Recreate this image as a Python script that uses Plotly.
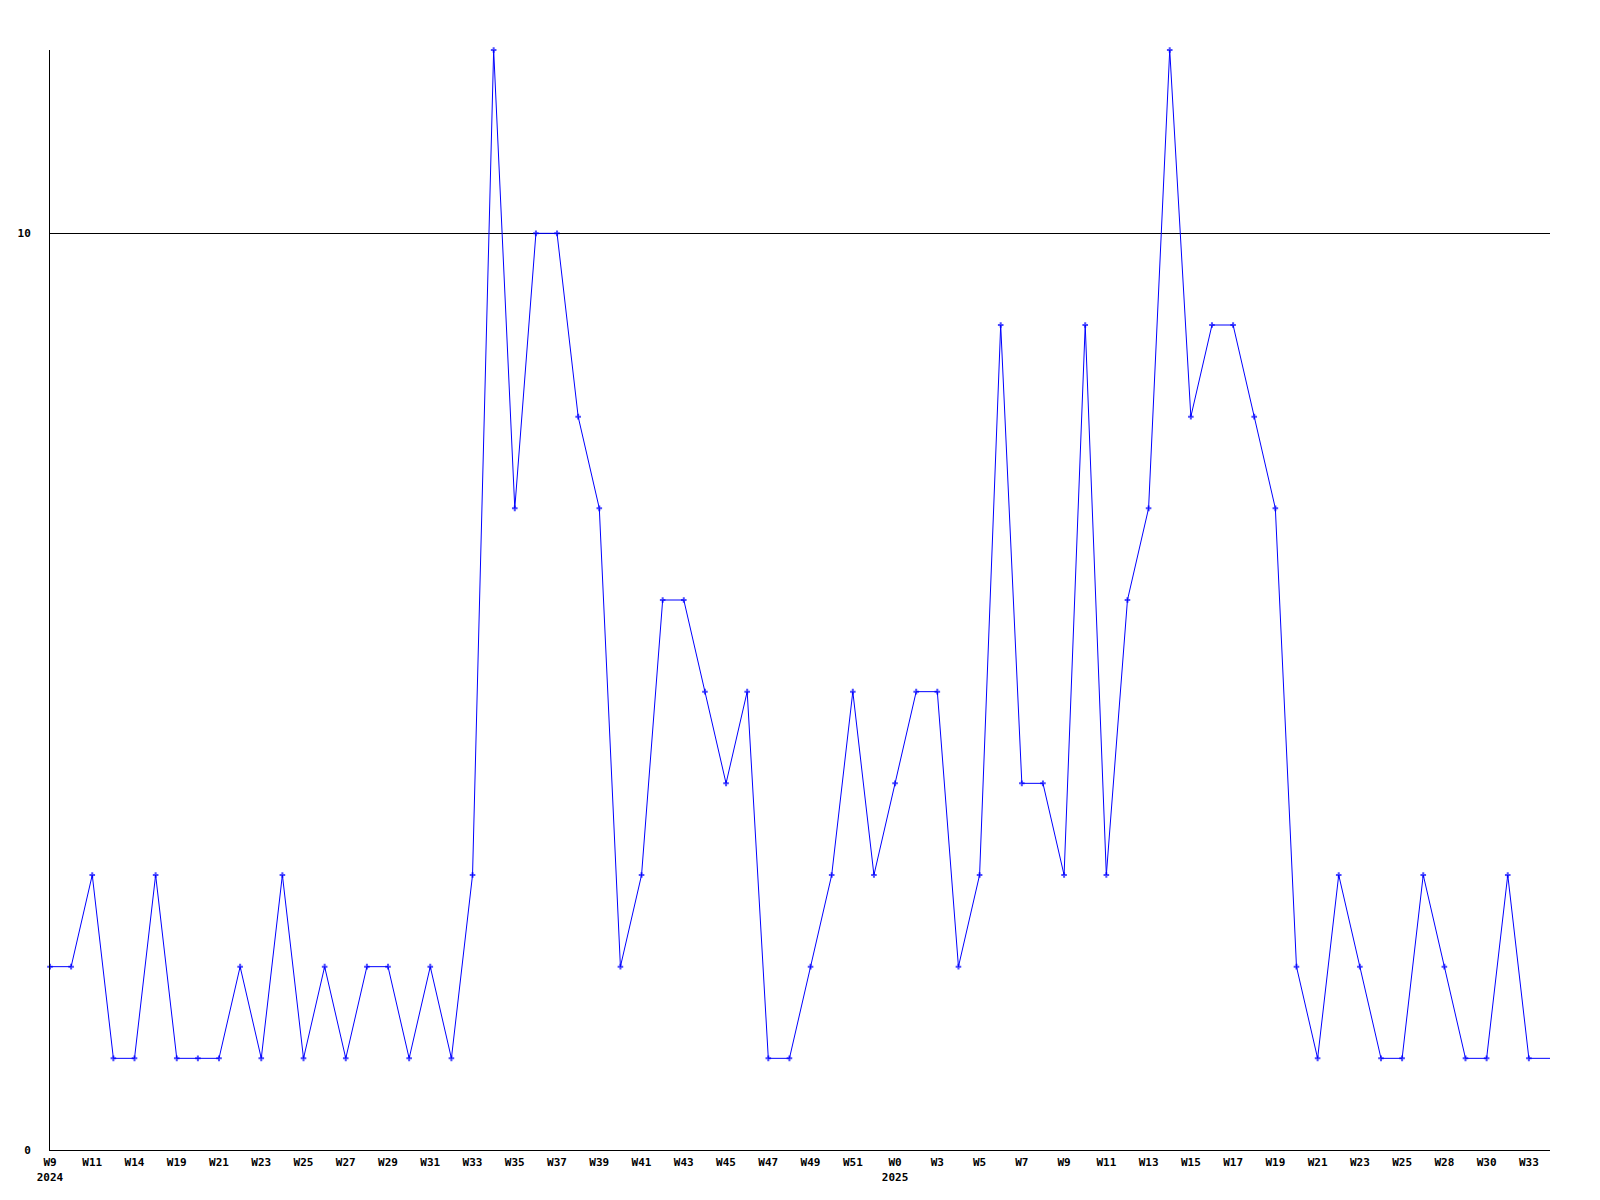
import plotly.graph_objects as go

weeks = ["W9", "W10", "W11", "W13", "W14", "W18", "W19", "W20", "W21", "W22",
         "W23", "W24", "W25", "W26", "W27", "W28", "W29", "W30", "W31", "W32",
         "W33", "W34", "W35", "W36", "W37", "W38", "W39", "W40", "W41", "W42",
         "W43", "W44", "W45", "W46", "W47", "W48", "W49", "W50", "W51", "W52",
         "W0", "W1", "W3", "W4", "W5", "W6", "W7", "W8", "W9", "W10",
         "W11", "W12", "W13", "W14", "W15", "W16", "W17", "W18", "W19", "W20",
         "W21", "W22", "W23", "W24", "W25", "W27", "W28", "W29", "W30", "W32",
         "W33", "W34"]
years = {0: "2024", 40: "2025"}
values = [2, 2, 3, 1, 1, 3, 1, 1, 1, 2,
          1, 3, 1, 2, 1, 2, 2, 1, 2, 1,
          3, 12, 7, 10, 10, 8, 7, 2, 3, 6,
          6, 5, 4, 5, 1, 1, 2, 3, 5, 3,
          4, 5, 5, 2, 3, 9, 4, 4, 3, 9,
          3, 6, 7, 12, 8, 9, 9, 8, 7, 2,
          1, 3, 2, 1, 1, 3, 2, 1, 1, 3,
          1, 1]
y_ticks = [0, 10]

n = len(values)
xs = list(range(n))
tickvals = xs[::2]
ticktext = [weeks[i] + ("<br>" + years[i] if i in years else "") for i in tickvals]
msizes = [4] * (n - 1) + [0]

font = dict(family="DejaVu Sans Mono", size=11, color="black", weight="bold")

fig = go.Figure()
fig.add_trace(go.Scatter(
    x=xs, y=values, mode="lines+markers",
    line=dict(color="#0000ff", width=1),
    marker=dict(symbol="cross-thin", size=msizes, color="#0000ff",
                line=dict(color="#0000ff", width=2)),
    cliponaxis=False, showlegend=False,
))
fig.update_layout(
    width=1584, height=1184,
    margin=dict(l=42, r=42, t=42, b=42),
    paper_bgcolor="white", plot_bgcolor="white",
    font=font,
    xaxis=dict(range=[0, n - 1], tickvals=tickvals, ticktext=ticktext,
               showgrid=False, zeroline=False, showline=True,
               linecolor="black", linewidth=1, ticks="", tickfont=font,
               ticklabelstandoff=2, automargin=False),
    yaxis=dict(range=[0, 12], tickvals=y_ticks, ticktext=[str(v) for v in y_ticks],
               showgrid=True, gridcolor="black", gridwidth=1, zeroline=False,
               showline=True, linecolor="black", linewidth=1, ticks="",
               tickfont=font, ticklabelstandoff=16, automargin=False),
)
fig.write_html("out.html")
